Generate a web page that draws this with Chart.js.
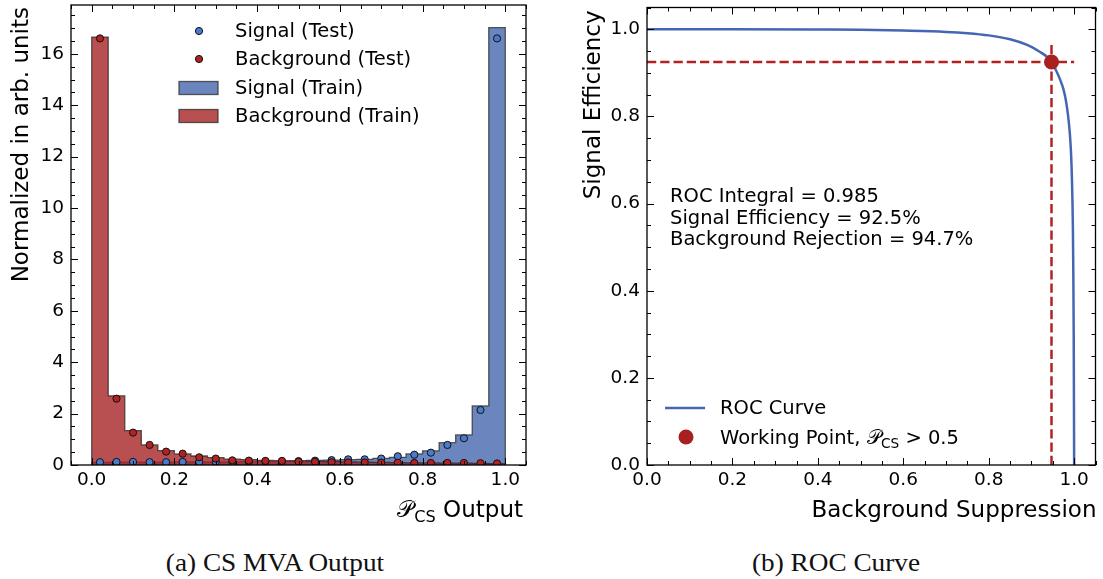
<!DOCTYPE html>
<html>
<head>
<meta charset="utf-8">
<script src="https://cdn.jsdelivr.net/npm/chart.js@4.4.1/dist/chart.umd.min.js"></script>
<style>
  html, body { margin: 0; padding: 0; background: #fff; width: 1103px; height: 579px; overflow: hidden; }
  #wrapA { position: absolute; left: 0; top: 0; width: 560px; height: 530px; }
  #wrapB { position: absolute; left: 560px; top: 0; width: 543px; height: 530px; }
  .cap { position: absolute; top: 548px; height: 30px; line-height: 30px; font-family: "Liberation Serif", serif;
         font-size: 25px; color: #111; white-space: nowrap; transform: translateX(-50%) scaleX(1.09); }
</style>
</head>
<body>
<div id="wrapA"><canvas id="mva" width="560" height="530"></canvas></div>
<div id="wrapB"><canvas id="roc" width="543" height="530"></canvas></div>
<div class="cap" style="left:275px">(a) CS MVA Output</div>
<div class="cap" style="left:836px">(b) ROC Curve</div>

<script>
// ---------- classifier output histograms (25 bins) ----------
const binEdges = [0.00, 0.04, 0.08, 0.12, 0.16, 0.20, 0.24, 0.28, 0.32, 0.36, 0.40, 0.44, 0.48,
                  0.52, 0.56, 0.60, 0.64, 0.68, 0.72, 0.76, 0.80, 0.84, 0.88, 0.92, 0.96, 1.00];
const sigTrain = [0.10, 0.11, 0.11, 0.11, 0.11, 0.12, 0.12, 0.12, 0.12, 0.13, 0.13, 0.14, 0.16,
                  0.18, 0.19, 0.21, 0.22, 0.26, 0.30, 0.43, 0.55, 0.87, 1.17, 2.30, 17.02];
const bkgTrain = [16.65, 2.69, 1.34, 0.78, 0.56, 0.43, 0.35, 0.29, 0.23, 0.21, 0.18, 0.17, 0.16,
                  0.14, 0.13, 0.12, 0.11, 0.10, 0.09, 0.08, 0.08, 0.07, 0.07, 0.06, 0.05];
const sigTest  = [0.11, 0.12, 0.12, 0.11, 0.11, 0.12, 0.12, 0.13, 0.12, 0.13, 0.14, 0.14, 0.15,
                  0.17, 0.19, 0.22, 0.22, 0.25, 0.34, 0.40, 0.48, 0.78, 1.04, 2.14, 16.60];
const bkgTest  = [16.60, 2.58, 1.26, 0.78, 0.52, 0.44, 0.30, 0.25, 0.18, 0.17, 0.16, 0.16, 0.13,
                  0.12, 0.11, 0.10, 0.10, 0.09, 0.09, 0.08, 0.08, 0.08, 0.08, 0.07, 0.06];
const mvaXTicks = [0.0, 0.2, 0.4, 0.6, 0.8, 1.0];
const mvaYTicks = [0, 2, 4, 6, 8, 10, 12, 14, 16];

// ---------- ROC curve ----------
const rocBkgSupp = [0.000, 0.200, 0.400, 0.500, 0.600, 0.700, 0.750, 0.800, 0.850, 0.890, 0.920, 0.935,
                    0.947, 0.958, 0.967, 0.975, 0.981, 0.986, 0.990, 0.993, 0.995, 0.997, 0.998, 0.999, 1.000];
const rocSigEff  = [1.000, 1.000, 0.9995, 0.999, 0.997, 0.994, 0.991, 0.986, 0.977, 0.964, 0.948, 0.938,
                    0.925, 0.905, 0.885, 0.862, 0.835, 0.800, 0.760, 0.710, 0.650, 0.550, 0.450, 0.300, 0.000];
const wpBkgSupp = 0.947;   // working point, P_CS > 0.5
const wpSigEff  = 0.925;
const rocIntegral = 0.985;
const guideEnd = { x: 1.0, y: 0.97 };
const rocTicks = [0.0, 0.2, 0.4, 0.6, 0.8, 1.0];

// ---------- shared styling ----------
const SANS = '"DejaVu Sans", "Liberation Sans", sans-serif';
const TICK_PX = 18.5, TEXT_PX = 19.5, LABEL_PX = 23;
const SIG_FILL = 'rgba(70,104,175,0.8)', BKG_FILL = 'rgba(166,35,36,0.8)';
const SIG_PT = '#4a7acb', BKG_PT = '#b22222';
const EDGE = 'rgba(40,40,40,0.75)';
Chart.defaults.font.family = SANS;
Chart.defaults.color = '#000';

// step outline of a histogram, built from the bin edges and contents
function stepPoints(edges, vals) {
  const pts = [{ x: edges[0], y: 0 }];
  vals.forEach((v, i) => pts.push({ x: edges[i], y: v }));
  pts.push({ x: edges[edges.length - 1], y: vals[vals.length - 1] });
  pts.push({ x: edges[edges.length - 1], y: 0 });
  return pts;
}
const centers = binEdges.slice(0, -1).map((e, i) => (e + binEdges[i + 1]) / 2);
const pointsOf = vals => vals.map((v, i) => ({ x: centers[i], y: v }));

// text made of runs (used for the P_CS subscript)
function runFont(r, px) { return (r.font || '') + ' ' + (px * (r.scale || 1)) + 'px ' + (r.family || SANS); }
function runsWidth(ctx, runs, px) {
  let w = 0;
  runs.forEach(r => { ctx.font = runFont(r, px); w += ctx.measureText(r.t).width + (r.gap || 0); });
  return w;
}
function drawRuns(ctx, runs, x, y, px, align) {
  let cx = align === 'right' ? x - runsWidth(ctx, runs, px) : x;
  ctx.textAlign = 'left';
  ctx.textBaseline = 'alphabetic';
  runs.forEach(r => {
    ctx.font = runFont(r, px);
    ctx.fillText(r.t, cx, y + (r.dy || 0) * px);
    cx += ctx.measureText(r.t).width + (r.gap || 0);
  });
}
const PCS = [{ t: '\u{1D4AB}', gap: 0.5 }, { t: 'CS', scale: 0.7, dy: 0.22 }];

// frame on all four sides with inward major/minor ticks
const frameTicks = {
  id: 'frameTicks',
  afterDraw(chart, args, opts) {
    const { ctx, chartArea: a, scales: { x, y } } = chart;
    const minorVals = (s, step) => {
      const out = [];
      for (let k = Math.ceil(s.min / step - 1e-9); k * step <= s.max + 1e-9; k++) {
        const v = k * step;
        if (!s.ticks.some(t => Math.abs(t.value - v) < step / 10)) out.push(v);
      }
      return out;
    };
    ctx.save();
    ctx.strokeStyle = '#000';
    ctx.lineWidth = 1;
    ctx.beginPath();
    const tx = (v, len) => {
      const p = Math.round(x.getPixelForValue(v)) + 0.5;
      ctx.moveTo(p, a.bottom); ctx.lineTo(p, a.bottom - len);
      ctx.moveTo(p, a.top); ctx.lineTo(p, a.top + len);
    };
    const ty = (v, len) => {
      const p = Math.round(y.getPixelForValue(v)) + 0.5;
      ctx.moveTo(a.left, p); ctx.lineTo(a.left + len, p);
      ctx.moveTo(a.right, p); ctx.lineTo(a.right - len, p);
    };
    x.ticks.forEach(t => tx(t.value, 7));
    y.ticks.forEach(t => ty(t.value, 7));
    minorVals(x, opts.minorX).forEach(v => tx(v, 4));
    minorVals(y, opts.minorY).forEach(v => ty(v, 4));
    ctx.stroke();
    ctx.lineWidth = 1.3;
    ctx.strokeRect(a.left, a.top, a.right - a.left, a.bottom - a.top);
    ctx.restore();
  }
};

// fixed-size axis boxes; label overhang is not reserved so the plot frame stays put
function linearAxis(min, max, tickVals, fmt, fitProp, fitVal, pad) {
  return {
    type: 'linear', min, max,
    afterBuildTicks: s => { s.ticks = tickVals.map(v => ({ value: v })); },
    afterFit: s => {
      s[fitProp] = fitVal;
      s.paddingTop = 0; s.paddingBottom = 0; s.paddingLeft = 0; s.paddingRight = 0;
    },
    grid: { display: false, drawTicks: false },
    border: { display: false },
    ticks: { autoSkip: false, maxRotation: 0, padding: pad, font: { size: TICK_PX }, color: '#000', callback: fmt }
  };
}

// ---------- (a) classifier output ----------
new Chart(document.getElementById('mva'), {
  type: 'line',
  data: {
    datasets: [
      { label: 'Signal (Train)', data: stepPoints(binEdges, sigTrain), stepped: 'before', fill: 'origin',
        backgroundColor: SIG_FILL, borderColor: EDGE, borderWidth: 1.3, pointRadius: 0, order: 4 },
      { label: 'Background (Train)', data: stepPoints(binEdges, bkgTrain), stepped: 'before', fill: 'origin',
        backgroundColor: BKG_FILL, borderColor: EDGE, borderWidth: 1.3, pointRadius: 0, order: 3 },
      { type: 'scatter', label: 'Signal (Test)', data: pointsOf(sigTest), pointRadius: 3.6,
        pointBackgroundColor: SIG_PT, pointBorderColor: '#111', pointBorderWidth: 1, order: 2 },
      { type: 'scatter', label: 'Background (Test)', data: pointsOf(bkgTest), pointRadius: 3.6,
        pointBackgroundColor: BKG_PT, pointBorderColor: '#111', pointBorderWidth: 1, order: 1 }
    ]
  },
  options: {
    responsive: false, animation: false,
    layout: { padding: { left: 0, top: 5, right: 34, bottom: 0 } },
    scales: {
      x: linearAxis(-0.05, 1.05, mvaXTicks, v => Number(v).toFixed(1), 'height', 65, 4),
      y: linearAxis(0, 17.9, mvaYTicks, v => String(Math.round(v)), 'width', 71, 7)
    },
    plugins: { legend: { display: false }, tooltip: { enabled: false }, frameTicks: { minorX: 0.05, minorY: 0.5 } }
  },
  plugins: [frameTicks, {
    id: 'mvaText',
    afterDraw(chart) {
      const ctx = chart.ctx, a = chart.chartArea;
      ctx.save();
      ctx.fillStyle = '#000';
      // axis titles
      drawRuns(ctx, [...PCS, { t: ' Output' }], 523, 517, LABEL_PX, 'right');
      ctx.translate(28, a.top + 2);
      ctx.rotate(-Math.PI / 2);
      ctx.font = LABEL_PX + 'px ' + SANS;
      ctx.textAlign = 'right'; ctx.textBaseline = 'alphabetic';
      ctx.fillText('Normalized in arb. units', 0, 0);
      ctx.setTransform(1, 0, 0, 1, 0, 0);
      // legend
      const rows = [
        { kind: 'pt', color: SIG_PT, text: 'Signal (Test)', y: 31 },
        { kind: 'pt', color: BKG_PT, text: 'Background (Test)', y: 59 },
        { kind: 'patch', color: SIG_FILL, text: 'Signal (Train)', y: 88 },
        { kind: 'patch', color: BKG_FILL, text: 'Background (Train)', y: 116 }
      ];
      rows.forEach(r => {
        if (r.kind === 'pt') {
          ctx.beginPath(); ctx.arc(199, r.y, 3.6, 0, Math.PI * 2);
          ctx.fillStyle = r.color; ctx.fill();
          ctx.strokeStyle = '#111'; ctx.lineWidth = 1; ctx.stroke();
        } else {
          ctx.fillStyle = '#fff'; ctx.fillRect(179, r.y - 6.5, 39, 13);
          ctx.fillStyle = r.color; ctx.fillRect(179, r.y - 6.5, 39, 13);
          ctx.strokeStyle = EDGE; ctx.lineWidth = 1.3; ctx.strokeRect(179, r.y - 6.5, 39, 13);
        }
        ctx.fillStyle = '#000';
        ctx.font = TEXT_PX + 'px ' + SANS;
        ctx.textAlign = 'left'; ctx.textBaseline = 'middle';
        ctx.fillText(r.text, 235, r.y + 1);
      });
      ctx.restore();
    }
  }]
});

// ---------- (b) ROC curve ----------
const ROC_LINE = '#4466b4', WP_RED = '#a8201f', GUIDE = '#b22222';
new Chart(document.getElementById('roc'), {
  type: 'line',
  data: {
    datasets: [
      { label: 'ROC Curve', data: rocBkgSupp.map((v, i) => ({ x: v, y: rocSigEff[i] })),
        borderColor: ROC_LINE, borderWidth: 2.5, pointRadius: 0, cubicInterpolationMode: 'monotone', order: 3 },
      { label: 'wp-h', data: [{ x: 0, y: wpSigEff }, { x: guideEnd.x, y: wpSigEff }],
        borderColor: GUIDE, borderWidth: 2.5, borderDash: [9.25, 4], pointRadius: 0, order: 2 },
      { label: 'wp-v', data: [{ x: wpBkgSupp, y: 0 }, { x: wpBkgSupp, y: guideEnd.y }],
        borderColor: GUIDE, borderWidth: 2.5, borderDash: [9.25, 4], pointRadius: 0, order: 2 },
      { type: 'scatter', label: 'Working Point', data: [{ x: wpBkgSupp, y: wpSigEff }],
        pointRadius: 7.5, pointBackgroundColor: WP_RED, pointBorderColor: WP_RED, pointBorderWidth: 0, order: 1 }
    ]
  },
  options: {
    responsive: false, animation: false,
    layout: { padding: { left: 0, top: 5, right: 6, bottom: 0 } },
    scales: {
      x: linearAxis(0, 1.05, rocTicks, v => Number(v).toFixed(1), 'height', 65, 4),
      y: linearAxis(0, 1.05, rocTicks, v => Number(v).toFixed(1), 'width', 87, 7)
    },
    plugins: { legend: { display: false }, tooltip: { enabled: false }, frameTicks: { minorX: 0.05, minorY: 0.05 } }
  },
  plugins: [frameTicks, {
    id: 'rocText',
    afterDraw(chart) {
      const ctx = chart.ctx, a = chart.chartArea;
      ctx.save();
      ctx.fillStyle = '#000';
      ctx.font = LABEL_PX + 'px ' + SANS;
      ctx.textAlign = 'right'; ctx.textBaseline = 'alphabetic';
      ctx.fillText('Background Suppression', a.right + 1, 517);
      ctx.translate(40, a.top + 3);
      ctx.rotate(-Math.PI / 2);
      ctx.fillText('Signal Efficiency', 0, 0);
      ctx.setTransform(1, 0, 0, 1, 0, 0);
      // summary box
      ctx.font = TEXT_PX + 'px ' + SANS;
      ctx.textAlign = 'left'; ctx.textBaseline = 'middle';
      const ox = 110;
      ctx.fillText('ROC Integral = ' + rocIntegral.toFixed(3), ox, 197);
      ctx.fillText('Signal Efficiency = ' + (wpSigEff * 100).toFixed(1) + '%', ox, 218.5);
      ctx.fillText('Background Rejection = ' + (wpBkgSupp * 100).toFixed(1) + '%', ox, 240);
      // legend
      ctx.strokeStyle = ROC_LINE; ctx.lineWidth = 2.5;
      ctx.beginPath(); ctx.moveTo(105, 408); ctx.lineTo(145, 408); ctx.stroke();
      ctx.fillStyle = WP_RED;
      ctx.beginPath(); ctx.arc(126, 437, 7.5, 0, Math.PI * 2); ctx.fill();
      ctx.fillStyle = '#000';
      ctx.fillText('ROC Curve', 160, 409);
      drawRuns(ctx, [{ t: 'Working Point, ' }, ...PCS, { t: ' > 0.5' }], 160, 444, TEXT_PX, 'left');
      ctx.restore();
    }
  }]
});
</script>
</body>
</html>
